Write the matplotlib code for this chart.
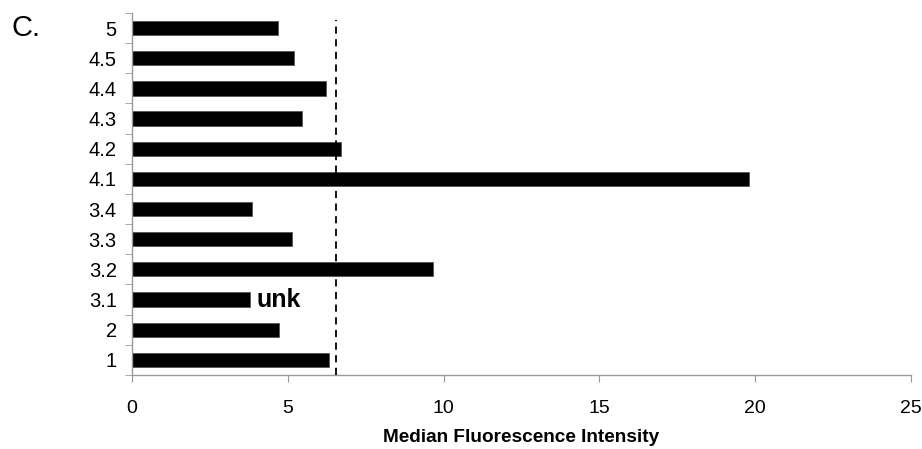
import matplotlib
matplotlib.use("Agg")
import matplotlib.pyplot as plt
import numpy as np

plt.rcParams['font.family'] = ['Liberation Sans', 'DejaVu Sans']

# --- Data (bottom to top) ---
samples = ["1", "2", "3.1", "3.2", "3.3", "3.4", "4.1", "4.2", "4.3", "4.4", "4.5", "5"]
mfi = [6.33, 4.72, 3.78, 9.66, 5.12, 3.85, 19.79, 6.69, 5.45, 6.24, 5.21, 4.67]
cutoff = 6.54
x_ticks = [0, 5, 10, 15, 20, 25]

fig = plt.figure(figsize=(9.22, 4.49), dpi=100)
ax = fig.add_axes([0.1432, 0.165, 0.845, 0.806])

y = np.arange(len(samples))
ax.barh(y, mfi, height=0.47, color="black", edgecolor="#555555", linewidth=0.6, zorder=2)
ax.axvline(cutoff, ymax=0.98, color="black", linestyle=(0, (4, 3)), linewidth=1.3, zorder=3)

# label next to 3.1
i = samples.index("3.1")
ax.text(mfi[i] + 0.2, y[i], "unk", fontsize=18, fontweight="bold", ha="left", va="center")

ax.set_xlim(0, 25)
ax.set_ylim(-0.5, len(samples) - 0.5)
ax.set_xticks(x_ticks)
ax.set_xticklabels([str(t) for t in x_ticks], fontsize=14)
ax.set_yticks(y)
ax.set_yticklabels(samples, fontsize=14.5)
ax.set_yticks(np.arange(-0.5, len(samples), 1.0), minor=True)
ax.tick_params(axis="y", which="major", length=0, pad=11)
ax.tick_params(axis="y", which="minor", length=5, color="#999999", direction="out")
ax.tick_params(axis="x", which="major", length=5, color="#999999", direction="out", pad=13)

for side in ["top", "right"]:
    ax.spines[side].set_visible(False)
for side in ["left", "bottom"]:
    ax.spines[side].set_color("#999999")
    ax.spines[side].set_linewidth(1.0)

ax.set_xlabel("Median Fluorescence Intensity", fontsize=13.7, fontweight="bold", labelpad=9)

fig.text(0.013, 0.938, "C.", fontsize=21, ha="left", va="center")

plt.savefig("out.png", dpi=100)
